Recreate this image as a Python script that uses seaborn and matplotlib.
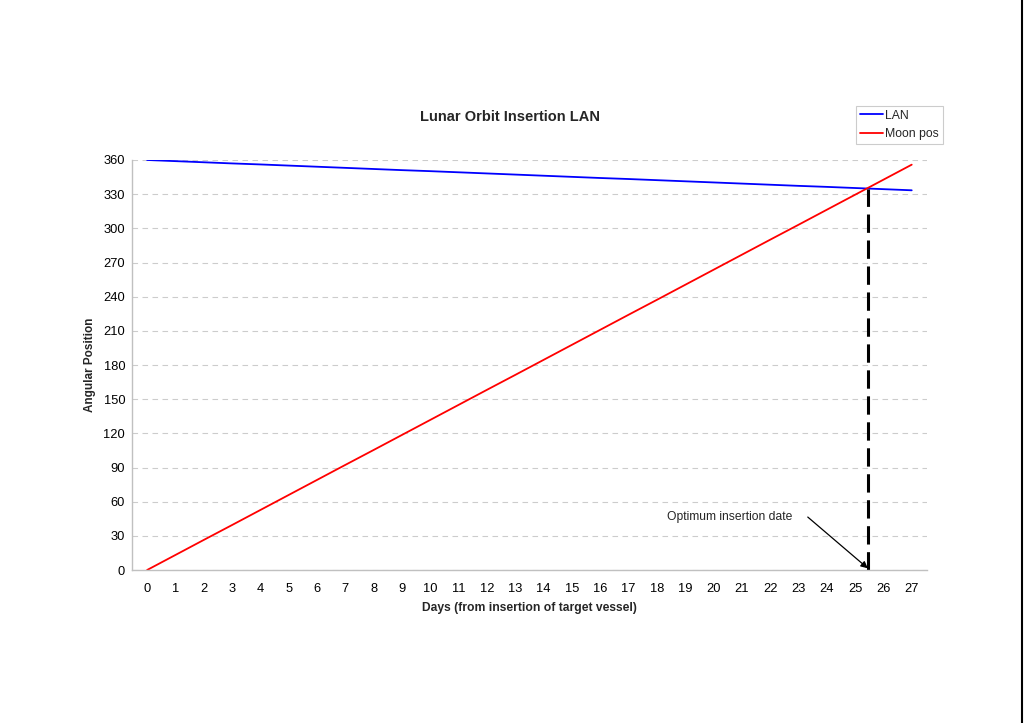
import numpy as np
import pandas as pd
import matplotlib
matplotlib.use("Agg")
import matplotlib.pyplot as plt
import seaborn as sns

# Data
days = list(range(28))
lan = [360.0, 359.0, 358.0, 357.0, 356.1, 355.1, 354.1, 353.1, 352.1, 351.1,
       350.2, 349.2, 348.2, 347.2, 346.2, 345.2, 344.2, 343.3, 342.3, 341.3,
       340.3, 339.3, 338.3, 337.3, 336.4, 335.4, 334.4, 333.4]
moon_pos = [0.0, 13.2, 26.4, 39.5, 52.7, 65.9, 79.1, 92.3, 105.4, 118.6,
            131.8, 145.0, 158.2, 171.3, 184.5, 197.7, 210.9, 224.1, 237.2, 250.4,
            263.6, 276.8, 290.0, 303.1, 316.3, 329.5, 342.7, 355.9]
insertion_day = 25.45
insertion_angle = 334.9
y_ticks = list(range(0, 361, 30))

df = pd.DataFrame({"Days": days * 2,
                   "Angle": lan + moon_pos,
                   "Series": ["LAN"] * 28 + ["Moon pos"] * 28})

sns.set_style("white")
plt.rcParams["font.family"] = ["Liberation Sans", "DejaVu Sans"]

fig = plt.figure(figsize=(10.24, 7.23), dpi=100)
ax = fig.add_axes([0.129, 0.2116, 0.776, 0.5671])

sns.lineplot(data=df, x="Days", y="Angle", hue="Series",
             palette={"LAN": "#0000ff", "Moon pos": "#ff0000"},
             linewidth=1.3, ax=ax)

# dashed marker for the crossing
ax.plot([insertion_day, insertion_day], [0, insertion_angle],
        color="black", linestyle=(0, (6, 2.5)), linewidth=2.2)

ax.text(22.8, 46.5, "Optimum insertion date", fontsize=8.7, ha="right", va="center")
ax.annotate("", xy=(insertion_day, 1.5), xytext=(23.33, 46.5),
            arrowprops=dict(arrowstyle="-|>", color="black", lw=0.9,
                            shrinkA=0, shrinkB=0, mutation_scale=10))

ax.set_xlim(-0.53, 27.53)
ax.set_ylim(0, 360)
ax.set_xticks(days)
ax.set_xticks(np.arange(-0.5, 28, 0.5), minor=True)
ax.set_yticks(y_ticks)
ax.tick_params(axis="both", labelsize=9.3, colors="#c0c0c0", labelcolor="black")
ax.tick_params(axis="x", which="major", length=0, pad=9.5)
ax.tick_params(axis="x", which="minor", length=3.5, color="#c0c0c0", direction="in")
ax.tick_params(axis="y", length=2.5, direction="out", pad=2.5)

ax.yaxis.grid(True, color="#cccccc", linestyle=(0, (5, 4)), linewidth=0.8)
ax.set_axisbelow(True)
for side in ["top", "right"]:
    ax.spines[side].set_visible(False)
for side in ["left", "bottom"]:
    ax.spines[side].set_color("#c0c0c0")
    ax.spines[side].set_linewidth(1.0)

ax.set_xlabel("Days (from insertion of target vessel)", fontsize=8.7,
              fontweight="bold", labelpad=5)
ax.set_ylabel("Angular Position", fontsize=8.5, fontweight="bold", labelpad=5)
fig.text(0.498, 0.838, "Lunar Orbit Insertion LAN", fontsize=10.5,
         fontweight="bold", ha="center", va="center")

leg = ax.legend(title=None, loc="upper left", bbox_to_anchor=(0.911, 1.132),
                fontsize=8.8, frameon=True, fancybox=False, borderpad=0.3,
                handlelength=1.9, handletextpad=0.2, labelspacing=0.55,
                borderaxespad=0)
leg.get_frame().set_edgecolor("#c0c0c0")
leg.get_frame().set_linewidth(0.8)

# thin border at the right edge of the page
fig.add_artist(plt.Line2D([0.9985, 0.9985], [0, 1], color="black", lw=1.5,
                          transform=fig.transFigure))

fig.savefig("out.png", dpi=100)
